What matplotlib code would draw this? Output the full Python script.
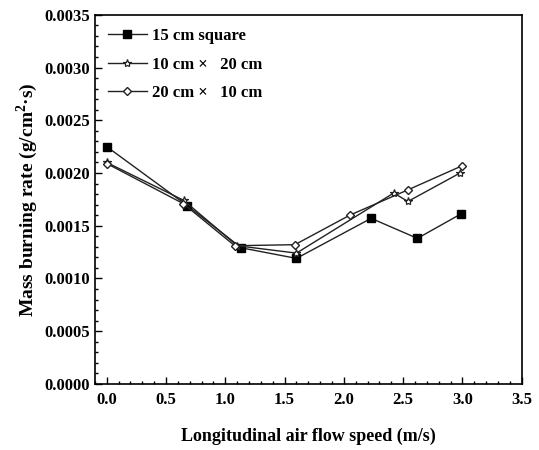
import matplotlib
matplotlib.use("Agg")
import matplotlib.pyplot as plt
from matplotlib.ticker import MultipleLocator, FormatStrFormatter

plt.rcParams['font.family'] = ['Liberation Serif', 'DejaVu Serif']
plt.rcParams['font.weight'] = 'bold'
plt.rcParams['mathtext.fontset'] = 'custom'
plt.rcParams['mathtext.rm'] = 'Liberation Serif:bold'

labels = ["15 cm square", "10 cm \u00d7   20 cm", "20 cm \u00d7   10 cm"]
x_sq = [0.0, 0.68, 1.135, 1.6, 2.23, 2.62, 2.985]
y_sq = [0.00225, 0.00169, 0.00129, 0.00119, 0.00157, 0.00138, 0.00161]
x_st = [0.0, 0.65, 1.1, 1.6, 2.42, 2.54, 2.98]
y_st = [0.00210, 0.00174, 0.00131, 0.00124, 0.00181, 0.00173, 0.00200]
x_di = [0.0, 0.645, 1.08, 1.587, 2.05, 2.54, 3.0]
y_di = [0.00209, 0.00171, 0.00131, 0.00132, 0.00160, 0.00184, 0.00207]

fig = plt.figure(figsize=(5.39, 4.5), dpi=100)
ax = fig.add_axes([0.176, 0.147, 0.792, 0.82])

ax.plot(x_sq, y_sq, color='#222222', lw=1.0, marker='s', ms=5.5, mfc='black', mec='black', label=labels[0])
ax.plot(x_st, y_st, color='#222222', lw=1.0, marker='*', ms=6, mfc='white', mec='#222222', mew=0.9, label=labels[1])
ax.plot(x_di, y_di, color='#222222', lw=1.0, marker='D', ms=4.5, mfc='white', mec='#222222', mew=1.0, label=labels[2])

ax.set_xlim(-0.1, 3.5)
ax.set_ylim(0, 0.0035)
ax.xaxis.set_major_locator(MultipleLocator(0.5))
ax.xaxis.set_minor_locator(MultipleLocator(0.1))
ax.yaxis.set_major_locator(MultipleLocator(0.0005))
ax.yaxis.set_minor_locator(MultipleLocator(0.0001))
ax.xaxis.set_major_formatter(FormatStrFormatter('%.1f'))
ax.yaxis.set_major_formatter(FormatStrFormatter('%.4f'))
ax.tick_params(direction='in', which='both', top=False, right=False, labelsize=12, width=1)
ax.tick_params(which='major', length=5)
ax.tick_params(which='minor', length=2.5)
ax.tick_params(axis='x', pad=6)
for s in ax.spines.values():
    s.set_linewidth(1.2)

ax.set_xlabel("Longitudinal air flow speed (m/s)", fontsize=13, fontweight='bold', labelpad=14)
ax.set_ylabel("Mass burning rate (g/cm$^2$\u00b7s)", fontsize=14, fontweight='bold', labelpad=3)

leg = ax.legend(loc='upper left', frameon=False, fontsize=12, handlelength=2.3, borderaxespad=0.4, labelspacing=0.75, handletextpad=0.3)

fig.savefig("out.png", dpi=100)
